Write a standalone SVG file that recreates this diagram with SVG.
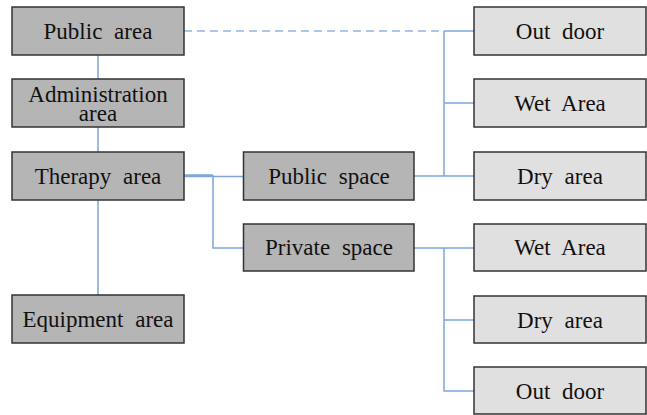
<svg xmlns="http://www.w3.org/2000/svg" width="647" height="415" viewBox="0 0 647 415">
<style>
.dark{fill:#b5b5b5;stroke:#333;stroke-width:1.5}
.light{fill:#e0e0e0;stroke:#333;stroke-width:1.5}
text{font-family:"Liberation Serif","Times New Roman",serif;font-size:23px;fill:#111;text-anchor:middle;word-spacing:6px}
.c{fill:none;stroke:#7fa7da;stroke-width:1.5}
.d{fill:none;stroke:#8fb4e3;stroke-width:1.5;stroke-dasharray:8 5}
</style>
<g id="connectors">
<line class="d" x1="184" y1="31" x2="444" y2="31"/>
<path class="c" d="M444 31H474M444 31V176M444 103H474M414 176H474"/>
<path class="c" d="M98 55V79M98 127V152M98 200V295"/>
<path class="c" d="M184 175H213M184 176.5H243.5M213 175V248H243.5"/>
<path class="c" d="M414 248H474M444 248V391H474M444 320H474"/>
</g>
<g id="public-area"><rect class="dark" x="12" y="7" width="172" height="48"/><text x="98" y="39">Public area</text></g>
<g id="administration-area"><rect class="dark" x="12" y="79" width="172" height="48"/><text x="98" y="101.5">Administration</text><text x="98" y="121">area</text></g>
<g id="therapy-area"><rect class="dark" x="12" y="152" width="172" height="48"/><text x="98" y="184">Therapy area</text></g>
<g id="equipment-area"><rect class="dark" x="12" y="295" width="172" height="48"/><text x="98" y="327">Equipment area</text></g>
<g id="public-space"><rect class="dark" x="243.5" y="152" width="170.5" height="48"/><text x="329" y="184">Public space</text></g>
<g id="private-space"><rect class="dark" x="243.5" y="224" width="170.5" height="47"/><text x="329" y="255">Private space</text></g>
<g id="out-door-1"><rect class="light" x="474" y="7" width="172" height="48"/><text x="560" y="39">Out door</text></g>
<g id="wet-area-1"><rect class="light" x="474" y="79" width="172" height="48"/><text x="560" y="111">Wet Area</text></g>
<g id="dry-area-1"><rect class="light" x="474" y="152" width="172" height="48"/><text x="560" y="184">Dry area</text></g>
<g id="wet-area-2"><rect class="light" x="474" y="224" width="172" height="47"/><text x="560" y="255">Wet Area</text></g>
<g id="dry-area-2"><rect class="light" x="474" y="296" width="172" height="47"/><text x="560" y="328">Dry area</text></g>
<g id="out-door-2"><rect class="light" x="474" y="367" width="172" height="47"/><text x="560" y="399">Out door</text></g>
</svg>
